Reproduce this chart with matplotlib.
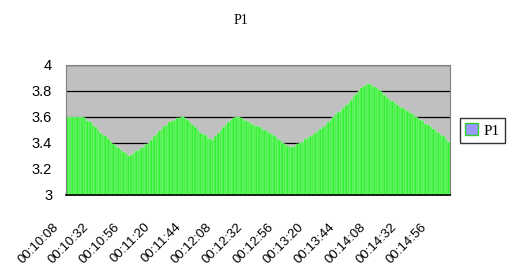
import matplotlib.pyplot as plt
import matplotlib.transforms as mtransforms
from matplotlib.patches import Patch

# P1 samples, one every 2 s starting at 00:10:08
p1_values = [
    3.60, 3.60, 3.60, 3.60, 3.60, 3.60, 3.60, 3.59, 3.57, 3.56,
    3.54, 3.52, 3.50, 3.48, 3.46, 3.45, 3.43, 3.41, 3.39, 3.38,
    3.36, 3.35, 3.33, 3.32, 3.30, 3.31, 3.32, 3.34, 3.35, 3.36,
    3.37, 3.39, 3.40, 3.42, 3.45, 3.47, 3.49, 3.51, 3.53, 3.54,
    3.56, 3.57, 3.58, 3.59, 3.59, 3.60, 3.59, 3.58, 3.56, 3.54,
    3.52, 3.50, 3.48, 3.47, 3.46, 3.44, 3.43, 3.42, 3.45, 3.48,
    3.50, 3.52, 3.54, 3.56, 3.58, 3.59, 3.60, 3.60, 3.59, 3.58,
    3.57, 3.56, 3.55, 3.54, 3.53, 3.52, 3.51, 3.50, 3.49, 3.48,
    3.47, 3.45, 3.44, 3.42, 3.40, 3.39, 3.38, 3.37, 3.37, 3.38,
    3.39, 3.40, 3.41, 3.43, 3.44, 3.45, 3.46, 3.48, 3.49, 3.51,
    3.52, 3.54, 3.56, 3.58, 3.60, 3.62, 3.64, 3.65, 3.67, 3.69,
    3.71, 3.73, 3.76, 3.78, 3.80, 3.82, 3.84, 3.85, 3.85, 3.84,
    3.83, 3.82, 3.81, 3.79, 3.77, 3.75, 3.73, 3.72, 3.71, 3.69,
    3.68, 3.67, 3.66, 3.65, 3.63, 3.62, 3.60, 3.59, 3.58, 3.57,
    3.55, 3.54, 3.52, 3.51, 3.49, 3.48, 3.46, 3.45, 3.43, 3.41,
]

tick_labels = [
    "00:10:08", "00:10:32", "00:10:56", "00:11:20", "00:11:44",
    "00:12:08", "00:12:32", "00:12:56", "00:13:20", "00:13:44",
    "00:14:08", "00:14:32", "00:14:56",
]
label_every = 12  # one label per 24 s

y_ticks = [3, 3.2, 3.4, 3.6, 3.8, 4]
y_tick_labels = ["3", "3.2", "3.4", "3.6", "3.8", "4"]

fig = plt.figure(figsize=(5.08, 2.74), dpi=100)
ax = fig.add_axes([66 / 508, 1 - 195 / 274, 384 / 508, 130 / 274])

x = list(range(len(p1_values)))
ax.bar(x, [v - 3 for v in p1_values], bottom=3, width=1.0,
       color="#33f033", edgecolor="#a8f5a8", linewidth=0.35, zorder=2)

ax.set_facecolor("#c0c0c0")
ax.set_xlim(-0.5, len(p1_values) - 0.5)
ax.set_ylim(3, 4)
ax.set_yticks(y_ticks)
ax.set_yticklabels(y_tick_labels, fontsize=10.5, family="Liberation Sans")
ax.tick_params(axis="y", length=0, pad=10)
ax.yaxis.grid(True, color="black", linewidth=0.9, zorder=1)
ax.set_axisbelow(True)

ax.set_xticks(x[::label_every])
ax.set_xticklabels(tick_labels, rotation=45, ha="right", fontsize=9.5,
                   family="Liberation Sans", rotation_mode="anchor")
ax.set_xticks([i - 0.5 for i in x] + [len(x) - 0.5], minor=True)
ax.tick_params(axis="x", which="major", length=0, pad=0)
ax.tick_params(axis="x", which="minor", direction="in", length=3,
               width=0.8, color="black")
offset = mtransforms.ScaledTranslation(-0.15, -0.26, fig.dpi_scale_trans)
for lbl in ax.get_xticklabels():
    lbl.set_transform(lbl.get_transform() + offset)

for side in ["top", "right", "left"]:
    ax.spines[side].set_color("#808080")
    ax.spines[side].set_linewidth(0.8)
ax.spines["bottom"].set_color("black")
ax.spines["bottom"].set_linewidth(1.2)

fig.text(241 / 508, 1 - 20 / 274, "P1", ha="center", va="center",
         fontsize=10, family="Liberation Serif")

handle = Patch(facecolor="#9999ff", edgecolor="#33cc33", linewidth=1)
fig.legend([handle], ["P1"], loc="center left",
           bbox_to_anchor=(460 / 508, 1 - 130.5 / 274),
           prop={"family": "Liberation Serif", "size": 11},
           frameon=True, fancybox=False, edgecolor="black",
           handlelength=0.8, handleheight=0.8, handletextpad=0.4,
           borderpad=0.35, borderaxespad=0)

fig.savefig("out.png", dpi=100)
